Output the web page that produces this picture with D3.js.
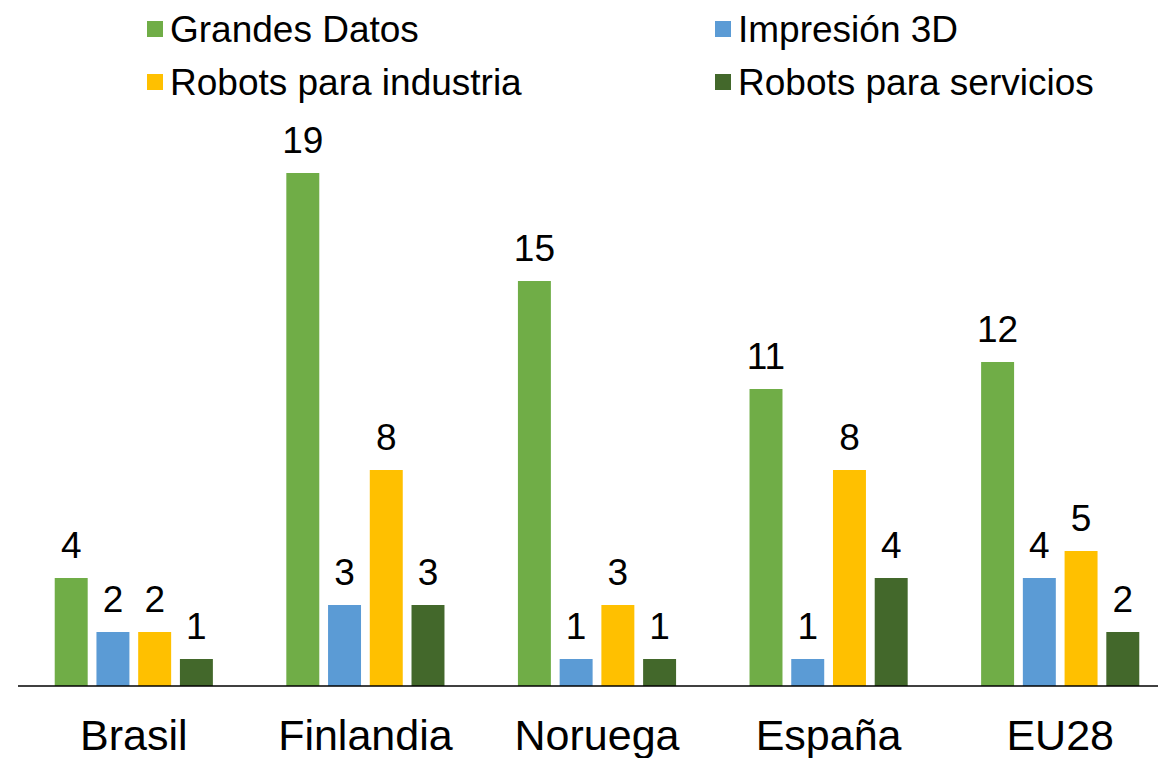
<!DOCTYPE html>
<html>
<head>
<meta charset="utf-8">
<script src="https://cdn.jsdelivr.net/npm/d3@7"></script>
<style>
  body { margin: 0; background: #fff; }
  text { font-family: "Liberation Sans", Arial, sans-serif; fill: #000; }
</style>
</head>
<body>
<div id="chart"></div>
<script>
// data
var countries = ["Brasil", "Finlandia", "Noruega", "España", "EU28"];
var seriesNames = ["Grandes Datos", "Impresión 3D", "Robots para industria", "Robots para servicios"];
var grandesDatos = [4, 19, 15, 11, 12];
var impresion3D = [2, 3, 1, 1, 4];
var robotsIndustria = [2, 8, 3, 8, 5];
var robotsServicios = [1, 3, 1, 4, 2];
var colors = ["#70AD47", "#5B9BD5", "#FFC000", "#43682B"];

var W = 1158, H = 758;
var baseY = 686;

var series = [grandesDatos, impresion3D, robotsIndustria, robotsServicios];
var rows = countries.map(function(c, i) {
    return { country: c, values: seriesNames.map(function(s, j) { return { key: s, value: series[j][i] }; }) };
});

var svg = d3.select("#chart").append("svg")
    .attr("width", W)
    .attr("height", H);

var x0 = d3.scaleBand().domain(countries).range([18, 1176]).padding(0);
var x1 = d3.scaleBand().domain(seriesNames).range([0, x0.bandwidth()])
    .paddingInner(0.21).paddingOuter(0.88);
var y = d3.scaleLinear().domain([0, 20]).range([baseY, baseY - 540]);
var color = d3.scaleOrdinal().domain(seriesNames).range(colors);

var groups = svg.selectAll("g.group")
    .data(rows)
    .enter().append("g")
    .attr("class", "group")
    .attr("transform", function(d) { return "translate(" + x0(d.country) + ",0)"; });

groups.selectAll("rect")
    .data(function(d) { return d.values; })
    .enter().append("rect")
    .attr("x", function(d) { return x1(d.key); })
    .attr("y", function(d) { return y(d.value); })
    .attr("width", x1.bandwidth())
    .attr("height", function(d) { return baseY - y(d.value); })
    .attr("fill", function(d) { return color(d.key); });

groups.selectAll("text.val")
    .data(function(d) { return d.values; })
    .enter().append("text")
    .attr("class", "val")
    .attr("x", function(d) { return x1(d.key) + x1.bandwidth() / 2; })
    .attr("y", function(d) { return y(d.value) - 20; })
    .attr("text-anchor", "middle")
    .style("font-size", "37px")
    .text(function(d) { return d.value; });

// baseline
svg.append("line")
    .attr("x1", 18).attr("x2", W)
    .attr("y1", baseY).attr("y2", baseY)
    .attr("stroke", "#000")
    .attr("stroke-width", 1.5);

// category labels (bottom is cut by the edge, like the original)
svg.selectAll("text.cat")
    .data(countries)
    .enter().append("text")
    .attr("class", "cat")
    .attr("x", function(d) { return x0(d) + x0.bandwidth() / 2; })
    .attr("y", 750)
    .attr("text-anchor", "middle")
    .style("font-size", "43px")
    .text(function(d) { return d; });

// legend, 2 columns
var legendPos = [[147, 29], [715, 29], [147, 82], [715, 82]];
var legend = svg.selectAll("g.legend")
    .data(seriesNames)
    .enter().append("g")
    .attr("class", "legend")
    .attr("transform", function(d, i) { return "translate(" + legendPos[i][0] + "," + legendPos[i][1] + ")"; });
legend.append("rect")
    .attr("x", 0).attr("y", -8)
    .attr("width", 16).attr("height", 16)
    .attr("fill", function(d) { return color(d); });
legend.append("text")
    .attr("x", 23)
    .attr("y", 0)
    .attr("dy", "0.36em")
    .style("font-size", "37px")
    .text(function(d) { return d; });
</script>
</body>
</html>
